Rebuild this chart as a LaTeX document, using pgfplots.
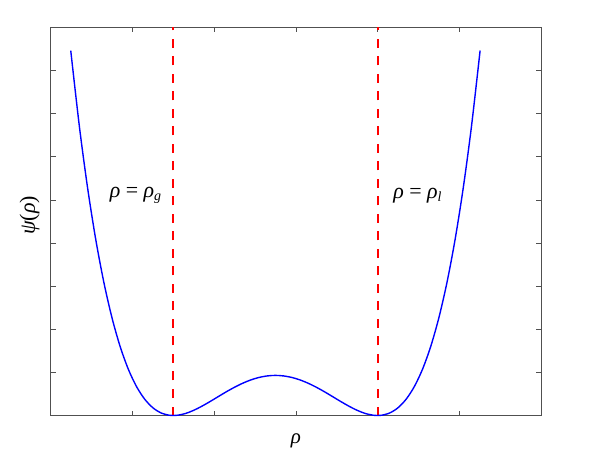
\documentclass[border=0pt]{standalone}
\usepackage{fontspec}
\setmainfont{Liberation Serif}
\usepackage{pgfplots}
\pgfplotsset{compat=1.18}
\usetikzlibrary{calc}
\definecolor{curveBlue}{RGB}{0,0,255}
\definecolor{lineRed}{RGB}{255,0,0}
\definecolor{frameGray}{RGB}{80,80,80}

\begin{document}
\begin{tikzpicture}
\begin{axis}[
  scale only axis,
  width=490bp,
  height=388bp,
  xmin=0, xmax=6,
  ymin=0, ymax=9,
  xtick={0,1,...,6},
  ytick={0,1,...,9},
  xticklabels={}, yticklabels={},
  tick align=inside,
  major tick length=5bp,
  tick style={frameGray, line width=0.6pt},
  axis line style={frameGray, line width=0.8pt},
  unbounded coords=jump,
  clip=false,
]
% coexistence densities
\addplot[color=lineRed, line width=2.1pt, dash pattern=on 9bp off 8.5bp] coordinates {
  (1.5,0) (1.5,9) (2.75,nan) (4.001,0) (4.001,9)
};
% double-well curve, values
\addplot[color=curveBlue, line width=1.4pt, smooth] coordinates {
  (0.245,8.461) (0.35,6.713) (0.45,5.294) (0.55,4.093) (0.65,3.089)
  (0.75,2.264) (0.85,1.597) (0.95,1.072) (1.05,0.671) (1.15,0.379)
  (1.25,0.180) (1.35,0.060) (1.45,0.006) (1.5,0) (1.55,0.006)
  (1.65,0.047) (1.75,0.121) (1.85,0.216) (1.95,0.324) (2.05,0.438)
  (2.15,0.551) (2.25,0.656) (2.35,0.749) (2.45,0.826) (2.55,0.883)
  (2.65,0.918) (2.75,0.930) (2.85,0.918) (2.95,0.883) (3.05,0.826)
  (3.15,0.749) (3.25,0.656) (3.35,0.551) (3.45,0.438) (3.55,0.324)
  (3.65,0.216) (3.75,0.121) (3.85,0.047) (3.95,0.006) (4.0,0)
  (4.05,0.006) (4.15,0.060) (4.25,0.180) (4.35,0.379) (4.45,0.671)
  (4.55,1.072) (4.65,1.597) (4.75,2.264) (4.85,3.089) (4.95,4.093)
  (5.05,5.294) (5.15,6.713) (5.255,8.461)
};

\node[anchor=west] at (axis cs:0.68,5.1)
  {\fontsize{22}{26}\selectfont\textit{ρ} = \textit{ρ}\raisebox{-0.35ex}{\fontsize{14}{16}\selectfont\textit{g}}};
\node[anchor=west] at (axis cs:4.15,5.1)
  {\fontsize{22}{26}\selectfont\textit{ρ} = \textit{ρ}\raisebox{-0.35ex}{\fontsize{14}{16}\selectfont\textit{l}}};

\node[rotate=90] at ($(rel axis cs:0,0.5)+(-21bp,6bp)$)
  {\fontsize{22}{26}\selectfont\textit{ψ}(\textit{ρ})};
\node at ($(rel axis cs:0.5,0)+(0bp,-25bp)$)
  {\fontsize{21}{24}\selectfont\textit{ρ}};
\end{axis}
\pgfresetboundingbox
\path[use as bounding box] ($(current axis.south west)+(-50.7bp,-34bp)$)
  rectangle ($(current axis.north east)+(57bp,27.3bp)$);
\end{tikzpicture}
\end{document}
